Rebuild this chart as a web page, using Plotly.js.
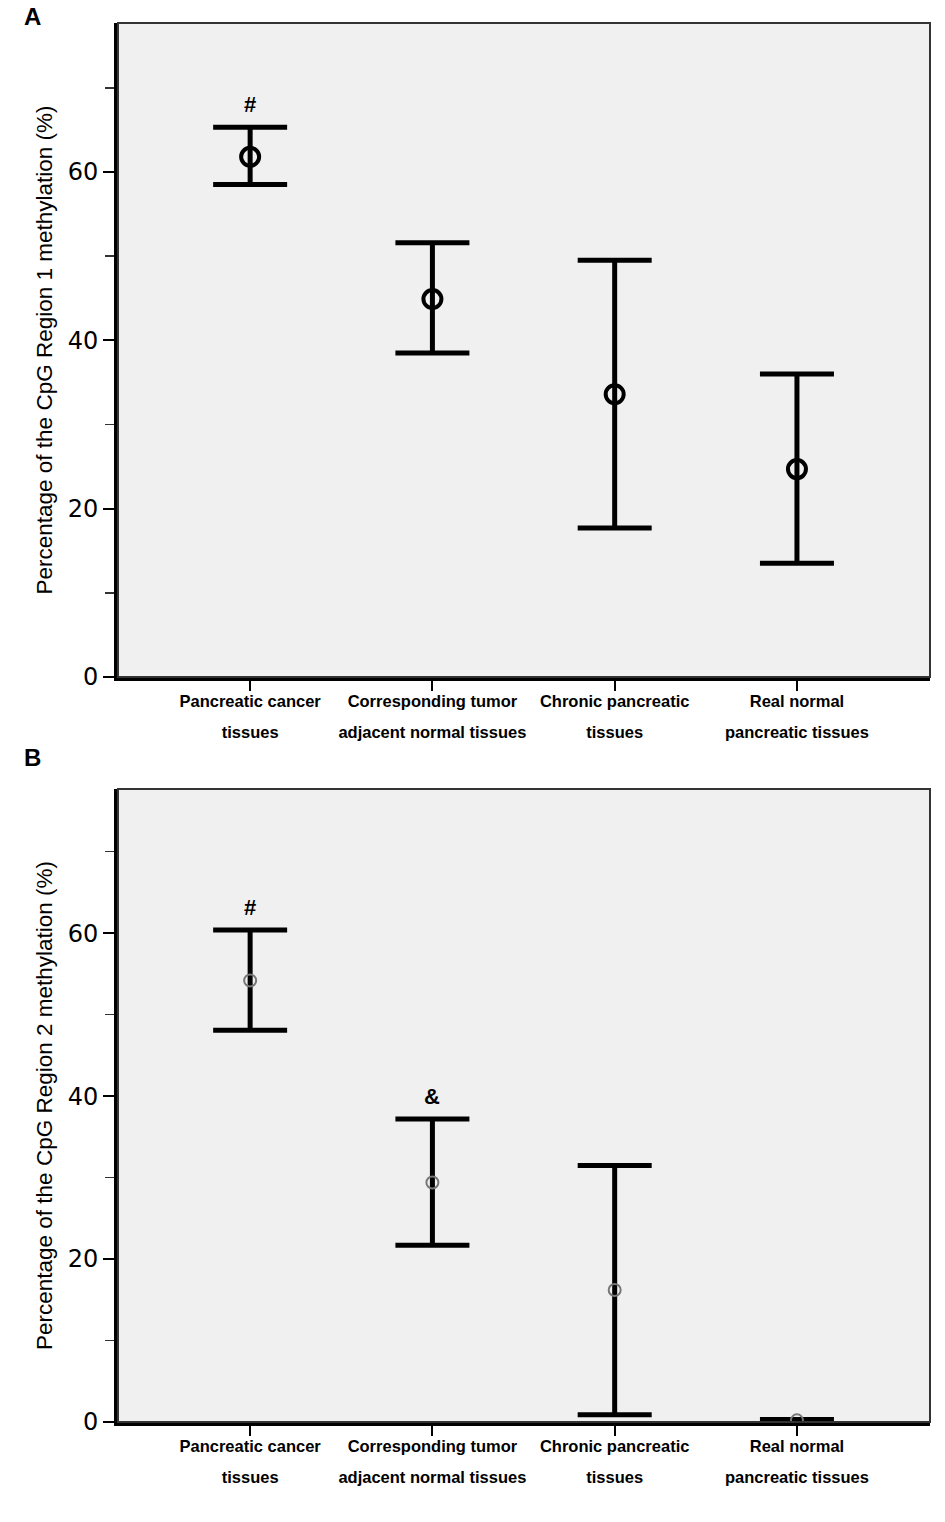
<!DOCTYPE html>
<html>
<head>
<meta charset="utf-8">
<script src="https://cdn.plot.ly/plotly-3.0.1.min.js"></script>
<style>html,body{margin:0;padding:0;background:#fff;}#chart{width:945px;height:1522px;}</style>
</head>
<body>
<div id="chart"></div>
<script>
// ---- Data ----
var categories = ["Pancreatic cancer tissues", "Corresponding tumor adjacent normal tissues", "Chronic pancreatic tissues", "Real normal pancreatic tissues"];
var tickLine1 = ["Pancreatic cancer", "Corresponding tumor", "Chronic pancreatic", "Real normal"];
var tickLine2 = ["tissues", "adjacent normal tissues", "tissues", "pancreatic tissues"];

// Panel A: CpG Region 1 methylation (%)
var meanA  = [61.8, 44.9, 33.6, 24.7];
var upperA = [65.3, 51.6, 49.5, 36.0];
var lowerA = [58.5, 38.5, 17.7, 13.5];

// Panel B: CpG Region 2 methylation (%)
var meanB  = [54.2, 29.4, 16.2, 0.2];
var upperB = [60.4, 37.2, 31.5, 0.3];
var lowerB = [48.1, 21.7, 0.9, 0.1];

var yTickVals = [0, 20, 40, 60];
var yMinorVals = [10, 30, 50, 70];
var titleA = "Percentage of the CpG Region 1 methylation (%)";
var titleB = "Percentage of the CpG Region 2 methylation (%)";
var markA = {cat: 0, text: "#"};
var marksB = [{cat: 0, text: "#"}, {cat: 1, text: "&"}];

// ---- Build ----
function diff(a, b) { return a.map(function (v, i) { return +(v - b[i]).toFixed(3); }); }
var tickText = tickLine1.map(function (l, i) {
  return '<span style="font-size:16.5px">' + l + '</span><br><span style="font-size:16.5px">' + tickLine2[i] + '</span>';
});

var FONT = "Liberation Sans, Arial, sans-serif";

var traceA = {
  type: "scatter", mode: "markers", x: categories, y: meanA, xaxis: "x", yaxis: "y",
  marker: {symbol: "circle-open", size: 18, color: "#000", line: {width: 4, color: "#000"}},
  error_y: {type: "data", symmetric: false, array: diff(upperA, meanA), arrayminus: diff(meanA, lowerA),
            color: "#000", thickness: 5, width: 37},
  hoverinfo: "skip", showlegend: false
};
var traceB = {
  type: "scatter", mode: "markers", x: categories, y: meanB, xaxis: "x2", yaxis: "y2",
  marker: {symbol: "circle-open", size: 12, color: "#777", line: {width: 2, color: "#777"}},
  error_y: {type: "data", symmetric: false, array: diff(upperB, meanB), arrayminus: diff(meanB, lowerB),
            color: "#000", thickness: 5, width: 37},
  hoverinfo: "skip", showlegend: false
};

var W = 945, H = 1522;
var xDom = [118 / W, 930 / W];
var yDomA = [1 - 677 / H, 1 - 23 / H];
var yDomB = [1 - 1422 / H, 1 - 789 / H];

function xAxis(domain, anchor) {
  return {
    domain: domain, anchor: anchor, type: "category", range: [-0.725, 3.73],
    tickmode: "array", tickvals: categories, ticktext: tickText,
    ticks: "outside", ticklen: 10, tickwidth: 2, tickcolor: "#000",
    ticklabelstandoff: -13,
    showline: true, linewidth: 4, linecolor: "#000", showgrid: false, zeroline: false,
    tickfont: {family: FONT, size: 24, color: "#000", weight: "bold"},
    automargin: false, fixedrange: true
  };
}
function yAxis(domain, anchor, title) {
  return {
    domain: domain, anchor: anchor, range: [0, 77.7],
    tickmode: "array", tickvals: yTickVals,
    ticks: "outside", ticklen: 11, tickwidth: 2, tickcolor: "#000",
    minor: {tickmode: "array", tickvals: yMinorVals, ticks: "outside", ticklen: 9, tickwidth: 1.5, tickcolor: "#333", showgrid: false},
    showline: true, linewidth: 4, linecolor: "#000", showgrid: false, zeroline: false,
    tickfont: {family: "DejaVu Sans, sans-serif", size: 24, color: "#000"},
    title: {text: title, font: {family: FONT, size: 22.5, color: "#000"}, standoff: 10},
    automargin: false, fixedrange: true
  };
}

var annotations = [
  {text: "A", xref: "paper", yref: "paper", x: 32 / W, y: 1 - 17 / H, showarrow: false,
   xanchor: "center", yanchor: "middle", font: {family: FONT, size: 24, color: "#000", weight: "bold"}},
  {text: "B", xref: "paper", yref: "paper", x: 32 / W, y: 1 - 757 / H, showarrow: false,
   xanchor: "center", yanchor: "middle", font: {family: FONT, size: 24, color: "#000", weight: "bold"}},
  {text: markA.text, xref: "x", yref: "y", x: categories[markA.cat], y: upperA[markA.cat], yanchor: "bottom", yshift: 8,
   showarrow: false, font: {family: FONT, size: 22, color: "#000", weight: "bold"}}
];
marksB.forEach(function (m) {
  annotations.push({text: m.text, xref: "x2", yref: "y2", x: categories[m.cat], y: upperB[m.cat], yanchor: "bottom", yshift: 8,
    showarrow: false, font: {family: FONT, size: 22, color: "#000", weight: "bold"}});
});

var shapes = [
  {type: "rect", xref: "x domain", yref: "y domain", x0: 0, x1: 1, y0: 0, y1: 1, line: {width: 2, color: "#333"}, layer: "above"},
  {type: "rect", xref: "x2 domain", yref: "y2 domain", x0: 0, x1: 1, y0: 0, y1: 1, line: {width: 2, color: "#333"}, layer: "above"}
];

var layout = {
  width: W, height: H,
  margin: {l: 0, r: 0, t: 0, b: 0, pad: 0},
  paper_bgcolor: "#fff", plot_bgcolor: "#f0f0f0",
  showlegend: false,
  font: {family: FONT, color: "#000"},
  xaxis: xAxis(xDom, "y"),
  yaxis: yAxis(yDomA, "x", titleA),
  xaxis2: xAxis(xDom, "y2"),
  yaxis2: yAxis(yDomB, "x2", titleB),
  annotations: annotations,
  shapes: shapes
};

Plotly.newPlot("chart", [traceA, traceB], layout, {staticPlot: true, displayModeBar: false});
</script>
</body>
</html>
